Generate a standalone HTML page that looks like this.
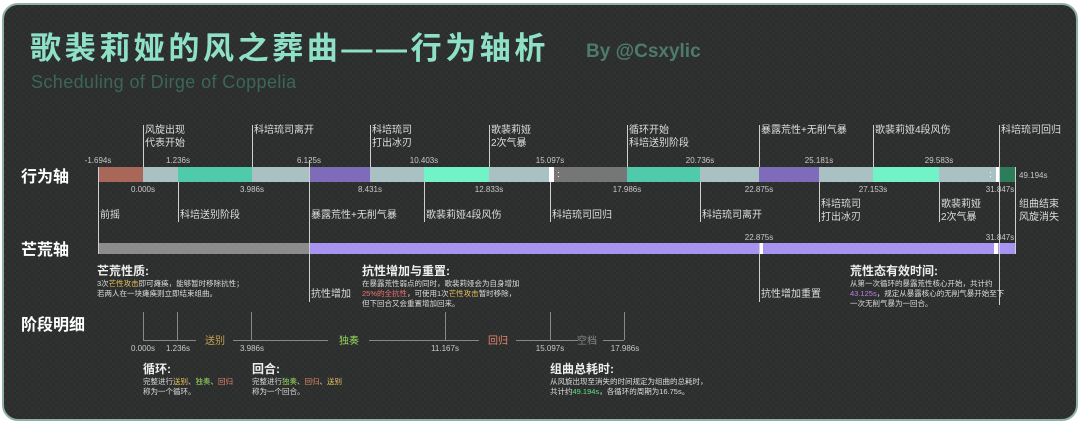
<!DOCTYPE html>
<html><head><meta charset="utf-8"><style>
*{margin:0;padding:0;box-sizing:border-box}
body{width:1080px;height:425px;background:#fff;position:relative;overflow:hidden;font-family:"Liberation Sans","Noto Sans CJK SC",sans-serif}
#p{position:absolute;left:2px;top:3px;width:1076px;height:418px;border-radius:16px;background:#2c2e2e;border:2px solid #8fb0a8;
background-image:linear-gradient(45deg,#303232 25%,transparent 25%,transparent 75%,#303232 75%),linear-gradient(45deg,#303232 25%,transparent 25%,transparent 75%,#303232 75%);background-size:6px 6px;background-position:0 0,3px 3px}
.a{position:absolute;white-space:nowrap}
.c{transform:translateX(-50%)}
.v{font-size:8px;color:#c8c8c8}
.e{font-size:10px;color:#ddd;line-height:13px}
.l{position:absolute;width:1px;background:#cfcfcf}
.s{position:absolute;height:15px;top:167px}
.h{font-size:16px;color:#fff;font-weight:bold}
.n{font-size:12px;color:#eee;font-weight:bold}
.t{font-size:7.5px;color:#ddd;line-height:10px}
.y{color:#e6c25a}.g{color:#8fd45a}.o{color:#e8866a}.r{color:#f07070}.pu{color:#c07be8}.gr{color:#5fe080}
.k{position:absolute;width:1px;background:#888;top:312px;height:28px}
.b{position:absolute;height:1px;background:#888;top:340px}
</style></head><body><div id="p"></div>
<div class="a" style="left:30px;top:29px;font-size:31px;line-height:40px;color:#8ee0c6;font-weight:bold;letter-spacing:3.6px">歌裴莉娅的风之葬曲——行为轴析</div>
<div class="a" style="left:586px;top:41px;font-size:19px;color:#4e7a6c;font-weight:bold">By @Csxylic</div>
<div class="a" style="left:31px;top:72px;font-size:18px;line-height:20px;color:#3c6658;letter-spacing:0.4px">Scheduling of Dirge of Coppelia</div>

<div class="a h" style="left:21px;top:163px">行为轴</div>
<div class="a h" style="left:21px;top:236px">芒荒轴</div>
<div class="a h" style="left:21px;top:311px">阶段明细</div>

<!-- behavior bar -->
<div class="s" style="left:98px;width:45px;background:#a9675a"></div>
<div class="s" style="left:143px;width:35px;background:#aac1c3"></div>
<div class="s" style="left:178px;width:74px;background:#4fcbab"></div>
<div class="s" style="left:252px;width:57px;background:#aac1c3"></div>
<div class="s" style="left:309px;width:61px;background:#7e6bb9"></div>
<div class="s" style="left:370px;width:54px;background:#aac1c3"></div>
<div class="s" style="left:424px;width:65px;background:#72f2c7"></div>
<div class="s" style="left:489px;width:60px;background:#aac1c3"></div>
<div class="s" style="left:549px;width:5px;background:#fff"></div>
<div class="s" style="left:554px;width:73px;background:#767676"></div>
<div class="s" style="left:627px;width:73px;background:#4fcbab"></div>
<div class="s" style="left:700px;width:59px;background:#aac1c3"></div>
<div class="s" style="left:759px;width:60px;background:#7e6bb9"></div>
<div class="s" style="left:819px;width:54px;background:#aac1c3"></div>
<div class="s" style="left:873px;width:66px;background:#72f2c7"></div>
<div class="s" style="left:939px;width:59px;background:#aac1c3"></div>
<div class="s" style="left:996px;width:4px;background:#fff"></div>
<div class="s" style="left:1000px;width:16px;background:#2e7d5a"></div>
<div class="a" style="left:557px;top:170px;color:#fff;font-size:9px;line-height:4px">·<br>·</div>
<div class="a" style="left:989px;top:170px;color:#fff;font-size:9px;line-height:4px">·<br>·</div>

<!-- mang bar -->
<div class="a" style="left:98px;top:243px;width:211px;height:11px;background:#8c8c8c"></div>
<div class="a" style="left:309px;top:243px;width:707px;height:11px;background:#a793f0"></div>
<div class="a" style="left:760px;top:243px;width:3px;height:11px;background:#fff"></div>
<div class="a" style="left:994px;top:243px;width:4px;height:11px;background:#fff"></div>

<!-- lines -->
<div class="l" style="left:98px;top:167px;height:87px"></div>
<div class="l" style="left:1015px;top:167px;height:87px"></div>
<div class="l" style="left:143px;top:125px;height:42px"></div>
<div class="l" style="left:252px;top:125px;height:42px"></div>
<div class="l" style="left:370px;top:125px;height:42px"></div>
<div class="l" style="left:489px;top:125px;height:42px"></div>
<div class="l" style="left:627px;top:125px;height:42px"></div>
<div class="l" style="left:759px;top:125px;height:42px"></div>
<div class="l" style="left:873px;top:125px;height:42px"></div>
<div class="l" style="left:999px;top:125px;height:180px"></div>
<div class="l" style="left:178px;top:182px;height:40px"></div>
<div class="l" style="left:309px;top:160px;height:142px"></div>
<div class="l" style="left:424px;top:182px;height:40px"></div>
<div class="l" style="left:550px;top:182px;height:40px"></div>
<div class="l" style="left:700px;top:182px;height:40px"></div>
<div class="l" style="left:819px;top:182px;height:40px"></div>
<div class="l" style="left:939px;top:182px;height:40px"></div>
<div class="l" style="left:759px;top:243px;height:59px"></div>

<!-- top events -->
<div class="a e" style="left:145px;top:124px">风旋出现<br>代表开始</div>
<div class="a e" style="left:254px;top:124px">科培琉司离开</div>
<div class="a e" style="left:372px;top:124px">科培琉司<br>打出冰刃</div>
<div class="a e" style="left:491px;top:124px">歌裴莉娅<br>2次气暴</div>
<div class="a e" style="left:629px;top:124px">循环开始<br>科培送别阶段</div>
<div class="a e" style="left:761px;top:124px">暴露荒性+无削气暴</div>
<div class="a e" style="left:875px;top:124px">歌裴莉娅4段风伤</div>
<div class="a e" style="left:1001px;top:124px">科培琉司回归</div>
<!-- bottom events -->
<div class="a e" style="left:100px;top:209px">前摇</div>
<div class="a e" style="left:180px;top:209px">科培送别阶段</div>
<div class="a e" style="left:311px;top:209px">暴露荒性+无削气暴</div>
<div class="a e" style="left:426px;top:209px">歌裴莉娅4段风伤</div>
<div class="a e" style="left:552px;top:209px">科培琉司回归</div>
<div class="a e" style="left:702px;top:209px">科培琉司离开</div>
<div class="a e" style="left:821px;top:198px">科培琉司<br>打出冰刃</div>
<div class="a e" style="left:941px;top:198px">歌裴莉娅<br>2次气暴</div>
<div class="a e" style="left:1019px;top:198px">组曲结束<br>风旋消失</div>

<!-- values -->
<div class="a v c" style="left:98px;top:156px">-1.694s</div>
<div class="a v c" style="left:178px;top:156px">1.236s</div>
<div class="a v c" style="left:309px;top:156px">6.125s</div>
<div class="a v c" style="left:424px;top:156px">10.403s</div>
<div class="a v c" style="left:550px;top:156px">15.097s</div>
<div class="a v c" style="left:700px;top:156px">20.736s</div>
<div class="a v c" style="left:819px;top:156px">25.181s</div>
<div class="a v c" style="left:939px;top:156px">29.583s</div>
<div class="a v c" style="left:143px;top:185px">0.000s</div>
<div class="a v c" style="left:252px;top:185px">3.986s</div>
<div class="a v c" style="left:370px;top:185px">8.431s</div>
<div class="a v c" style="left:489px;top:185px">12.833s</div>
<div class="a v c" style="left:627px;top:185px">17.986s</div>
<div class="a v c" style="left:759px;top:185px">22.875s</div>
<div class="a v c" style="left:873px;top:185px">27.153s</div>
<div class="a v c" style="left:1000px;top:185px">31.847s</div>
<div class="a v" style="left:1019px;top:171px">49.194s</div>
<div class="a v c" style="left:759px;top:233px">22.875s</div>
<div class="a v c" style="left:1000px;top:233px">31.847s</div>

<!-- notes -->
<div class="a e" style="left:311px;top:288px">抗性增加</div>
<div class="a e" style="left:761px;top:288px">抗性增加重置</div>
<div class="a" style="left:97px;top:262px"><div class="n">芒荒性质:</div><div class="t">3次<span class="y">芒性攻击</span>即可瘫痪，能够暂时移除抗性；<br>若两人在一块瘫痪则立即结束组曲。</div></div>
<div class="a" style="left:362px;top:262px"><div class="n">抗性增加与重置:</div><div class="t">在暴露荒性弱点的同时，歌裴莉娅会为自身增加<br><span class="r">25%的全抗性</span>，可使用1次<span class="y">芒性攻击</span>暂时移除，<br>但下回合又会重置增加回来。</div></div>
<div class="a" style="left:850px;top:262px"><div class="n">荒性态有效时间:</div><div class="t">从第一次循环的暴露荒性核心开始，共计约<br><span class="pu">43.125s</span>，规定从暴露核心的无削气暴开始至下<br>一次无削气暴为一回合。</div></div>

<!-- phases -->
<div class="k" style="left:143px"></div><div class="k" style="left:177px"></div><div class="k" style="left:251px"></div>
<div class="k" style="left:445px"></div><div class="k" style="left:550px"></div><div class="k" style="left:624px"></div>
<div class="b" style="left:143px;width:53px"></div>
<div class="b" style="left:233px;width:95px"></div>
<div class="b" style="left:369px;width:110px"></div>
<div class="b" style="left:516px;width:62px"></div>
<div class="b" style="left:603px;width:21px"></div>
<div class="a" style="left:205px;top:332px;font-size:10px" ><span class="y" style="color:#c9a050">送别</span></div>
<div class="a" style="left:339px;top:332px;font-size:10px"><span class="g">独奏</span></div>
<div class="a" style="left:488px;top:332px;font-size:10px"><span class="o">回归</span></div>
<div class="a" style="left:577px;top:332px;font-size:10px;color:#888">空档</div>
<div class="a v c" style="left:143px;top:344px">0.000s</div>
<div class="a v c" style="left:178px;top:344px">1.236s</div>
<div class="a v c" style="left:252px;top:344px">3.986s</div>
<div class="a v c" style="left:445px;top:344px">11.167s</div>
<div class="a v c" style="left:550px;top:344px">15.097s</div>
<div class="a v c" style="left:625px;top:344px">17.986s</div>
<div class="a" style="left:143px;top:360px"><div class="n">循环:</div><div class="t">完整进行<span class="y">送别</span>、<span class="g">独奏</span>、<span class="o">回归</span><br>称为一个循环。</div></div>
<div class="a" style="left:252px;top:360px"><div class="n">回合:</div><div class="t">完整进行<span class="g">独奏</span>、<span class="o">回归</span>、<span class="y">送别</span><br>称为一个回合。</div></div>
<div class="a" style="left:550px;top:360px"><div class="n">组曲总耗时:</div><div class="t">从风旋出现至消失的时间规定为组曲的总耗时，<br>共计约<span class="gr">49.194s</span>，各循环的周期为16.75s。</div></div>
</body></html>
